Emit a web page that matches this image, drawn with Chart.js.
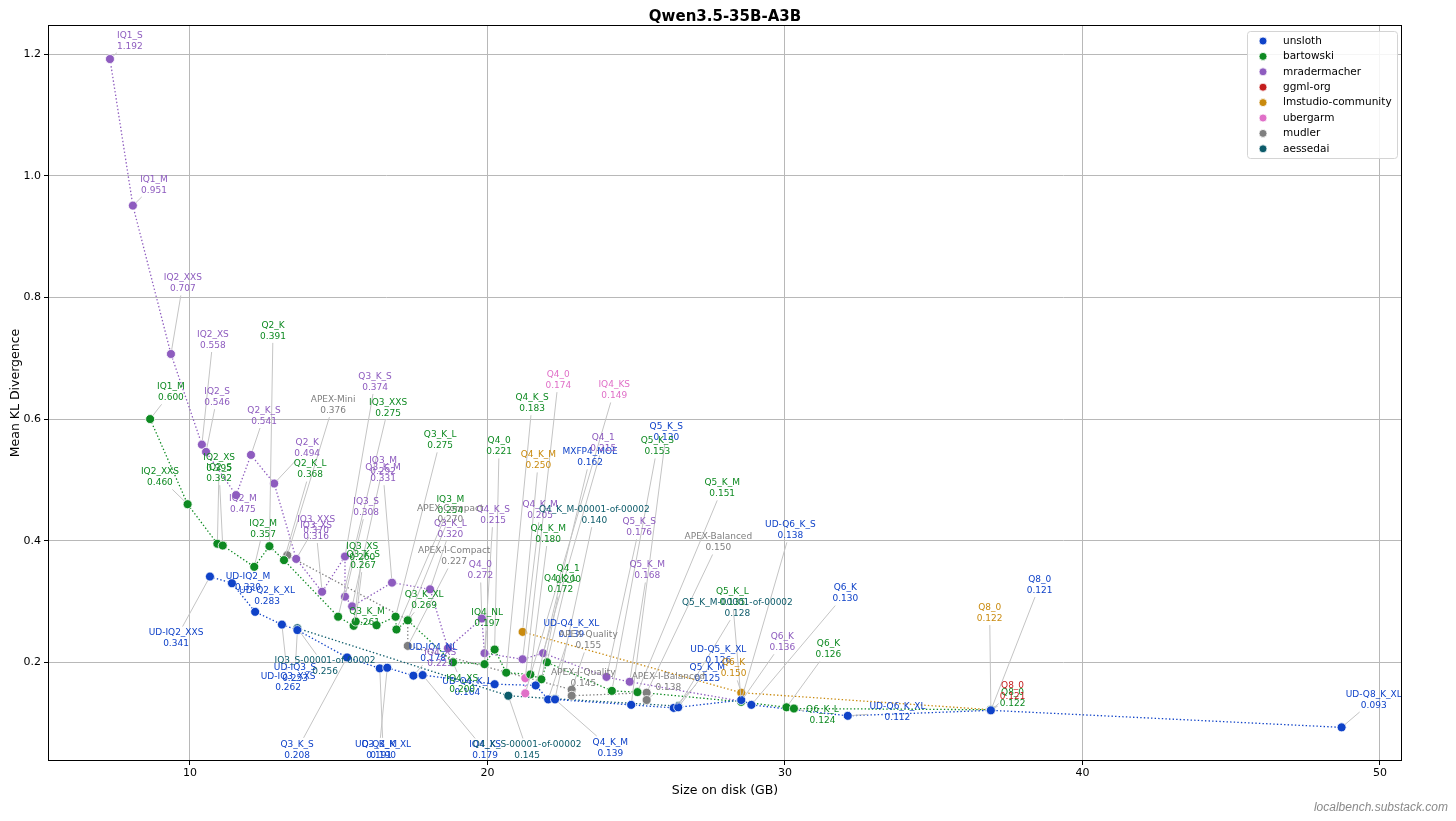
<!DOCTYPE html>
<html>
<head>
<meta charset="utf-8">
<title>Qwen3.5-35B-A3B KLD vs size</title>
<script src="https://cdn.jsdelivr.net/npm/chart.js@4.4.1/dist/chart.umd.min.js"></script>
<style>
    html, body { margin: 0; padding: 0; background: #fff; }
    #chart { display: block; }
</style>
</head>
<body>
<canvas id="chart" width="1456" height="821" style="width:1456px;height:821px"></canvas>
<script>
// Axis ticks
const xTicks = [10, 20, 30, 40, 50];
const yTicks = [0.2, 0.4, 0.6, 0.8, 1.0, 1.2];

// unsloth
const unslothQuant = ['UD-IQ2_XXS', 'UD-IQ2_M', 'UD-Q2_K_XL', 'UD-IQ3_XXS', 'UD-IQ3_S', 'Q3_K_S', 'UD-Q3_K_XL', 'Q3_K_M', 'UD-IQ4_NL', 'IQ4_XS', 'UD-Q4_K_L', 'MXFP4_MOE', 'UD-Q4_K_XL', 'Q4_K_M', 'Q5_K_S', 'Q5_K_M', 'UD-Q5_K_XL', 'UD-Q6_K_S', 'Q6_K', 'UD-Q6_K_XL', 'Q8_0', 'UD-Q8_K_XL'];
const unslothGB = [10.67, 11.41, 12.19, 13.09, 13.61, 15.28, 16.38, 16.63, 17.51, 17.82, 20.24, 21.62, 22.04, 22.27, 24.83, 26.26, 26.41, 28.53, 28.87, 32.11, 36.92, 48.71];
const unslothKLD = [0.341, 0.330, 0.283, 0.262, 0.253, 0.208, 0.190, 0.191, 0.178, 0.179, 0.164, 0.162, 0.139, 0.139, 0.130, 0.125, 0.126, 0.138, 0.130, 0.112, 0.121, 0.093];

// bartowski
const bartowskiQuant = ['IQ1_M', 'IQ2_XXS', 'IQ2_XS', 'IQ2_S', 'IQ2_M', 'Q2_K', 'Q2_K_L', 'IQ3_XXS', 'IQ3_XS', 'Q3_K_S', 'Q3_K_M', 'Q3_K_L', 'IQ3_M', 'Q3_K_XL', 'IQ4_XS', 'IQ4_NL', 'Q4_0', 'Q4_K_S', 'Q4_K_M', 'Q4_K_L', 'Q4_1', 'Q5_K_S', 'Q5_K_M', 'Q5_K_L', 'Q6_K', 'Q6_K_L', 'Q8_0'];
const bartowskiGB = [8.66, 9.92, 10.92, 11.10, 12.16, 12.67, 13.16, 14.98, 15.50, 15.57, 16.27, 16.91, 16.94, 17.32, 18.84, 19.90, 20.24, 20.63, 21.44, 21.81, 22.00, 24.18, 25.04, 28.53, 30.05, 30.30, 36.92];
const bartowskiKLD = [0.600, 0.460, 0.395, 0.392, 0.357, 0.391, 0.368, 0.275, 0.260, 0.267, 0.261, 0.275, 0.254, 0.269, 0.200, 0.197, 0.221, 0.183, 0.180, 0.172, 0.200, 0.153, 0.151, 0.135, 0.126, 0.124, 0.122];

// mradermacher
const mraderQuant = ['IQ1_S', 'IQ1_M', 'IQ2_XXS', 'IQ2_XS', 'IQ2_S', 'IQ2_M', 'Q2_K_S', 'Q2_K', 'IQ3_XXS', 'IQ3_XS', 'Q3_K_S', 'IQ3_S', 'IQ3_M', 'Q3_K_M', 'Q3_K_L', 'IQ4_XS', 'Q4_0', 'Q4_K_S', 'Q4_K_M', 'Q4_1', 'Q5_K_S', 'Q5_K_M', 'Q6_K'];
const mraderGB = [7.31, 8.08, 9.36, 10.40, 10.54, 11.55, 12.05, 12.83, 13.57, 14.44, 15.21, 15.21, 15.45, 16.79, 18.07, 18.67, 19.81, 19.90, 21.18, 21.87, 24.00, 24.78, 28.53];
const mraderKLD = [1.192, 0.951, 0.707, 0.558, 0.546, 0.475, 0.541, 0.494, 0.370, 0.316, 0.374, 0.308, 0.292, 0.331, 0.320, 0.223, 0.272, 0.215, 0.205, 0.215, 0.176, 0.168, 0.136];

// ggml-org
const ggmlQuant = ['Q8_0'];
const ggmlGB = [36.92];
const ggmlKLD = [0.121];

// lmstudio-community
const lmstudioQuant = ['Q4_K_M', 'Q6_K', 'Q8_0'];
const lmstudioGB = [21.18, 28.53, 36.92];
const lmstudioKLD = [0.250, 0.150, 0.122];

// ubergarm
const ubergarmQuant = ['Q4_0', 'IQ4_KS'];
const ubergarmGB = [21.27, 21.27];
const ubergarmKLD = [0.174, 0.149];

// mudler
const mudlerQuant = ['APEX-Mini', 'APEX-Compact', 'APEX-I-Compact', 'APEX-Quality', 'APEX-I-Quality', 'APEX-Balanced', 'APEX-I-Balanced'];
const mudlerGB = [13.27, 17.32, 17.32, 22.83, 22.83, 25.35, 25.35];
const mudlerKLD = [0.376, 0.270, 0.227, 0.155, 0.145, 0.150, 0.138];

// aessedai
const aessedaiQuant = ['IQ3_S-00001-of-00002', 'Q4_K_S-00001-of-00002', 'Q4_K_M-00001-of-00002', 'Q5_K_M-00001-of-00002'];
const aessedaiGB = [13.61, 20.70, 22.27, 26.41];
const aessedaiKLD = [0.256, 0.145, 0.140, 0.128];

// Where each annotation text sits (data units), kept apart from the values above
const unslothTagAt = [[9.53, 0.239], [11.95, 0.332], [12.59, 0.309], [13.30, 0.167], [13.53, 0.182], [13.60, 0.056], [16.49, 0.056], [16.36, 0.056], [18.17, 0.215], [19.92, 0.055], [19.32, 0.159], [23.45, 0.537], [22.82, 0.254], [24.13, 0.059], [26.01, 0.578], [27.39, 0.182], [27.76, 0.212], [30.18, 0.417], [32.03, 0.313], [33.78, 0.118], [38.56, 0.327], [49.79, 0.138]];
const bartowskiTagAt = [[9.36, 0.644], [8.99, 0.504], [10.98, 0.527], [10.98, 0.511], [12.46, 0.419], [12.79, 0.745], [14.04, 0.517], [16.66, 0.618], [15.79, 0.381], [15.82, 0.368], [15.95, 0.274], [18.41, 0.565], [18.75, 0.459], [17.87, 0.302], [19.15, 0.164], [19.99, 0.272], [20.39, 0.555], [21.50, 0.626], [22.04, 0.411], [22.45, 0.328], [22.71, 0.345], [25.71, 0.555], [27.89, 0.486], [28.23, 0.307], [31.46, 0.221], [31.26, 0.113], [37.65, 0.141]];
const mraderTagAt = [[7.98, 1.222], [8.79, 0.985], [9.76, 0.823], [10.77, 0.730], [10.91, 0.636], [11.78, 0.460], [12.49, 0.605], [13.94, 0.552], [14.24, 0.426], [14.24, 0.416], [16.22, 0.661], [15.92, 0.455], [16.49, 0.522], [16.49, 0.511], [18.75, 0.419], [18.41, 0.207], [19.76, 0.351], [20.19, 0.442], [21.77, 0.450], [23.89, 0.560], [25.10, 0.422], [25.37, 0.351], [29.91, 0.233]];
const ggmlTagAt = [[37.65, 0.152]];
const lmstudioTagAt = [[21.71, 0.532], [28.27, 0.190], [36.88, 0.281]];
const ubergarmTagAt = [[22.38, 0.664], [24.26, 0.647]];
const mudlerTagAt = [[14.81, 0.623], [18.75, 0.443], [18.88, 0.374], [23.39, 0.236], [23.22, 0.174], [27.76, 0.397], [26.08, 0.167]];
const aessedaiTagAt = [[14.54, 0.193], [21.33, 0.055], [23.59, 0.442], [28.40, 0.289]];

const SERIES = [
    { name: 'unsloth', color: '#0f42c8', quant: unslothQuant, gb: unslothGB, kld: unslothKLD, tags: unslothTagAt },
    { name: 'bartowski', color: '#0e8a22', quant: bartowskiQuant, gb: bartowskiGB, kld: bartowskiKLD, tags: bartowskiTagAt },
    { name: 'mradermacher', color: '#8e5cbf', quant: mraderQuant, gb: mraderGB, kld: mraderKLD, tags: mraderTagAt },
    { name: 'ggml-org', color: '#c41d1d', quant: ggmlQuant, gb: ggmlGB, kld: ggmlKLD, tags: ggmlTagAt },
    { name: 'lmstudio-community', color: '#c98a0e', quant: lmstudioQuant, gb: lmstudioGB, kld: lmstudioKLD, tags: lmstudioTagAt },
    { name: 'ubergarm', color: '#e070c8', quant: ubergarmQuant, gb: ubergarmGB, kld: ubergarmKLD, tags: ubergarmTagAt },
    { name: 'mudler', color: '#7f7f7f', quant: mudlerQuant, gb: mudlerGB, kld: mudlerKLD, tags: mudlerTagAt },
    { name: 'aessedai', color: '#0c5b6a', quant: aessedaiQuant, gb: aessedaiGB, kld: aessedaiKLD, tags: aessedaiTagAt }
];

const FONT = '"DejaVu Sans", "Liberation Sans", sans-serif';

function pointsOf(s) {
    return s.gb.map((g, i) => ({ x: g, y: s.kld[i] }));
}

// Dotted connecting lines go under all markers (higher order = drawn first)
const datasets = [];
SERIES.forEach((s, i) => {
    datasets.push({
        label: s.name + ' line',
        data: pointsOf(s),
        showLine: true,
        borderColor: s.color,
        borderWidth: 1.3,
        borderDash: [1.4, 2.2],
        pointRadius: 0,
        fill: false,
        order: 50 + i
    });
});
SERIES.forEach((s, i) => {
    datasets.push({
        label: s.name,
        data: pointsOf(s),
        showLine: false,
        backgroundColor: s.color,
        borderColor: '#ffffff',
        borderWidth: 0.8,
        pointRadius: 4.5,
        order: i
    });
});

// Leader lines, quant labels, frame, titles, legend, watermark
const overlay = {
    id: 'overlay',
    afterDatasetsDraw(chart) {
        const { ctx, scales: { x, y } } = chart;
        ctx.save();
        ctx.font = '9px ' + FONT;
        const lineH = 11;

        // leader lines first
        SERIES.forEach(s => {
            s.gb.forEach((g, i) => {
                const px = x.getPixelForValue(g), py = y.getPixelForValue(s.kld[i]);
                const tx = x.getPixelForValue(s.tags[i][0]), ty = y.getPixelForValue(s.tags[i][1]);
                const w = Math.max(ctx.measureText(s.quant[i]).width, ctx.measureText(s.kld[i].toFixed(3)).width);
                const hw = w / 2 + 2, hh = lineH + 1;
                const dx = px - tx, dy = py - ty;
                if (Math.abs(dx) <= hw && Math.abs(dy) <= hh) return;
                const t = Math.min(dx !== 0 ? hw / Math.abs(dx) : Infinity, dy !== 0 ? hh / Math.abs(dy) : Infinity);
                const sx = tx + dx * t, sy = ty + dy * t;
                const len = Math.hypot(px - sx, py - sy);
                if (len < 6) return;
                const ex = px - (px - sx) / len * 4.5, ey = py - (py - sy) / len * 4.5;
                ctx.beginPath();
                ctx.moveTo(sx, sy);
                ctx.lineTo(ex, ey);
                ctx.strokeStyle = '#c4c4c4';
                ctx.lineWidth = 1;
                ctx.stroke();
            });
        });

        // then the two-line labels
        ctx.textAlign = 'center';
        ctx.textBaseline = 'middle';
        SERIES.forEach(s => {
            ctx.fillStyle = s.color;
            s.gb.forEach((g, i) => {
                const tx = x.getPixelForValue(s.tags[i][0]), ty = y.getPixelForValue(s.tags[i][1]);
                ctx.fillText(s.quant[i], tx, ty - lineH / 2);
                ctx.fillText(s.kld[i].toFixed(3), tx, ty + lineH / 2);
            });
        });
        ctx.restore();
    },
    afterDraw(chart) {
        const { ctx, chartArea: a } = chart;
        ctx.save();

        // axes frame
        ctx.strokeStyle = '#000';
        ctx.lineWidth = 1;
        ctx.strokeRect(a.left + 0.5, a.top + 0.5, a.right - a.left - 1, a.bottom - a.top - 1);

        // title
        ctx.fillStyle = '#000';
        ctx.textAlign = 'center';
        ctx.textBaseline = 'alphabetic';
        ctx.font = 'bold 15px ' + FONT;
        ctx.fillText('Qwen3.5-35B-A3B', (a.left + a.right) / 2, 20.5);

        // axis titles
        ctx.font = '12.5px ' + FONT;
        ctx.fillText('Size on disk (GB)', (a.left + a.right) / 2, 794);
        ctx.save();
        ctx.translate(19, (a.top + a.bottom) / 2);
        ctx.rotate(-Math.PI / 2);
        ctx.fillText('Mean KL Divergence', 0, 0);
        ctx.restore();

        // legend box
        const lx = 1247, ly = 31, lw = 150, lh = 127;
        ctx.beginPath();
        ctx.roundRect(lx + 0.5, ly + 0.5, lw, lh, 3);
        ctx.fillStyle = 'rgba(255,255,255,0.85)';
        ctx.fill();
        ctx.strokeStyle = '#d4d4d4';
        ctx.stroke();
        ctx.font = '10.5px ' + FONT;
        ctx.textAlign = 'left';
        ctx.textBaseline = 'middle';
        SERIES.forEach((s, i) => {
            const ry = 41 + i * 15.4;
            ctx.beginPath();
            ctx.arc(1263, ry, 4, 0, Math.PI * 2);
            ctx.fillStyle = s.color;
            ctx.fill();
            ctx.strokeStyle = '#fff';
            ctx.lineWidth = 0.8;
            ctx.stroke();
            ctx.fillStyle = '#000';
            ctx.fillText(s.name, 1283, ry);
        });

        // watermark
        ctx.font = 'italic 12px "Liberation Sans", sans-serif';
        ctx.fillStyle = '#8a8a8a';
        ctx.textAlign = 'right';
        ctx.textBaseline = 'alphabetic';
        ctx.fillText('localbench.substack.com', 1448, 811);
        ctx.restore();
    }
};

new Chart(document.getElementById('chart'), {
    type: 'scatter',
    data: { datasets: datasets },
    options: {
        responsive: false,
        animation: false,
        devicePixelRatio: window.devicePixelRatio || 1,
        layout: { padding: { top: 25, right: 54, bottom: 0, left: 0 } },
        plugins: {
            legend: { display: false },
            tooltip: { enabled: false },
            title: { display: false }
        },
        scales: {
            x: {
                type: 'linear',
                min: 5.227,
                max: 50.74,
                afterBuildTicks: (s) => { s.ticks = xTicks.map(v => ({ value: v })); },
                afterFit: (s) => { s.height = 60; },
                ticks: {
                    color: '#000',
                    font: { family: FONT, size: 11 },
                    padding: 2,
                    maxRotation: 0,
                    callback: (v) => String(v)
                },
                grid: { color: '#b8b8b8', lineWidth: 1, tickLength: 4, tickColor: '#000' },
                border: { display: false }
            },
            y: {
                type: 'linear',
                min: 0.0377,
                max: 1.248,
                afterBuildTicks: (s) => { s.ticks = yTicks.map(v => ({ value: v })); },
                afterFit: (s) => { s.width = 48; },
                ticks: {
                    color: '#000',
                    font: { family: FONT, size: 11 },
                    padding: 3,
                    callback: (v) => Number(v).toFixed(1)
                },
                grid: { color: '#b8b8b8', lineWidth: 1, tickLength: 4, tickColor: '#000' },
                border: { display: false }
            }
        }
    },
    plugins: [overlay]
});
</script>
</body>
</html>
